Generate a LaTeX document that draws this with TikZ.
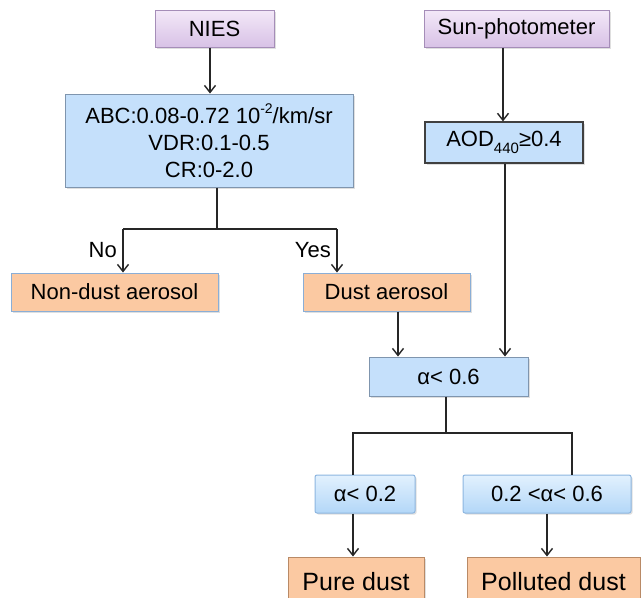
\documentclass[tikz,border=0pt]{standalone}
\usepackage{fontspec}
\setmainfont{Liberation Sans}
\usetikzlibrary{arrows.meta,shadows}
\definecolor{purfillA}{HTML}{F3E8F8}
\definecolor{purfillB}{HTML}{D8C2E6}
\definecolor{purdraw}{HTML}{A58DB8}
\definecolor{bluefill}{HTML}{C5E0FB}
\definecolor{bluedraw}{HTML}{7F95AE}
\definecolor{blueA}{HTML}{E2F1FE}
\definecolor{blueB}{HTML}{B3D7F8}
\definecolor{bluelight}{HTML}{8DB6E0}
\definecolor{orfill}{HTML}{FBC9A2}
\definecolor{ordrawblue}{HTML}{8AAED6}
\definecolor{ordrawbrown}{HTML}{B98A66}
\tikzset{
  base/.style={rectangle, inner sep=2pt, align=center, text=black,
    font=\fontsize{22}{27}\selectfont,
    drop shadow={shadow xshift=1.5pt, shadow yshift=-1.5pt, opacity=0.25}},
  purbox/.style={base, draw=purdraw, line width=1pt, top color=purfillA, bottom color=purfillB},
  bluebox/.style={base, draw=bluedraw, line width=1pt, fill=bluefill},
  darkbox/.style={base, draw=black!75, line width=1.2pt, fill=bluefill},
  gradbox/.style={base, draw=bluelight, line width=1pt, rounded corners=2pt, top color=blueA, bottom color=blueB},
  orbox/.style={base, draw=ordrawblue, line width=1pt, fill=orfill},
  orbigbox/.style={base, draw=ordrawbrown, line width=1pt, fill=orfill, font=\fontsize{25}{30}\selectfont},
  conn/.style={line width=1.4pt, black!85},
  arr/.style={conn, -{Straight Barb[length=7pt,width=11pt,line width=1.4pt]}},
  lbl/.style={font=\fontsize{22}{27}\selectfont, inner sep=0pt}
}
\begin{document}
\begin{tikzpicture}[x=1pt,y=-1pt]
\useasboundingbox (0,0) rectangle (641,598);
\clip (0,0) rectangle (641,598);
\fill[white] (0,0) rectangle (641,598);
% nodes
\node[purbox, minimum width=119pt, minimum height=37pt] (nies) at (214.5,28.5) {NIES};
\node[purbox, minimum width=185pt, minimum height=37pt] (sun) at (516.5,28.5) {Sun-photometer};
\node[bluebox, minimum width=288pt, minimum height=93pt] (abc) at (209,140.5)
  {ABC:0.08-0.72 10\raisebox{0.45em}{\fontsize{14}{14}\selectfont -2}/km/sr\\VDR:0.1-0.5\\CR:0-2.0};
\node[darkbox, minimum width=158pt, minimum height=41pt] (aod) at (504,142.5)
  {AOD\raisebox{-0.3em}{\fontsize{15}{15}\selectfont 440}≥0.4};
\node[orbox, minimum width=207pt, minimum height=38pt] (nondust) at (114.5,292) {Non-dust aerosol};
\node[orbox, minimum width=167pt, minimum height=38pt] (dust) at (386.5,292) {Dust aerosol};
\node[bluebox, minimum width=159pt, minimum height=39pt] (a06) at (448.5,376.5) {α< 0.6};
\node[gradbox, minimum width=100pt, minimum height=38pt] (a02) at (365,494) {α< 0.2};
\node[gradbox, minimum width=168pt, minimum height=38pt] (amid) at (547,494) {0.2 <α< 0.6};
\node[orbigbox, minimum width=136pt, minimum height=50pt] (pure) at (356,582) {Pure dust};
\node[orbigbox, minimum width=173pt, minimum height=50pt] (poll) at (553.5,582) {Polluted dust};
% junction coordinates
\coordinate (j1) at (217,229);
\coordinate (ndin) at (123,229);
\coordinate (dsin) at (337,229);
\coordinate (dsout) at (398,311);
\coordinate (aodx) at (505,163);
\coordinate (j2) at (446,433);
\coordinate (lft) at (353,433);
\coordinate (rgt) at (572,433);
% connectors
\draw[arr] (nies.south -| 210,0) -- (abc.north -| 210,0);
\draw[arr] (sun.south -| 503,0) -- (aod.north -| 503,0);
\draw[conn] (abc.south -| j1) -- (j1);
\draw[conn] (ndin) -- (dsin);
\draw[arr] (ndin) -- (nondust.north -| ndin);
\draw[arr] (dsin) -- (dust.north -| dsin);
\node[lbl, anchor=east] (no) at (117,250) {No};
\node[lbl, anchor=east] (yes) at (331,250) {Yes};
\draw[arr] (dust.south -| dsout) -- (a06.north -| dsout);
\draw[arr] (aod.south -| aodx) -- (a06.north -| aodx);
\draw[conn] (a06.south -| j2) -- (j2);
\draw[conn] (a02.north -| lft) -- (lft) -- (rgt) -- (amid.north -| rgt);
\draw[arr] (a02.south -| lft) -- (pure.north -| lft);
\draw[arr] (amid.south -| 547,0) -- (poll.north -| 547,0);
\end{tikzpicture}
\end{document}
